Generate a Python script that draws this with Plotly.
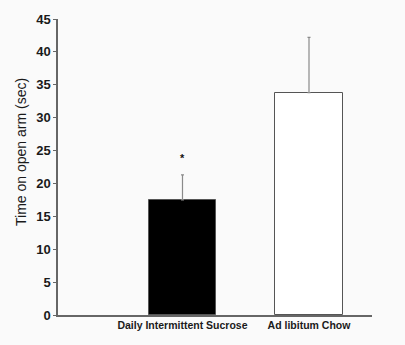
import plotly.graph_objects as go

categories = ["Daily Intermittent Sucrose", "Ad libitum Chow"]
means = [17.5, 33.8]
errors = [3.8, 8.4]
fills = ["#000000", "#ffffff"]
y_ticks = [0, 5, 10, 15, 20, 25, 30, 35, 40, 45]
star_y = 23.9

FONT = "Liberation Sans, Arial, sans-serif"
L, R, T, B = 58, 33, 19, 30
W, H = 405, 345
pw, ph = W - L - R, H - T - B

fig = go.Figure()
fig.add_trace(go.Bar(
    x=[0, 1], y=means, width=0.53,
    marker=dict(color=fills, line=dict(color="#555555", width=1)),
    error_y=dict(type="data", array=errors, symmetric=False, arrayminus=[0, 0],
                 color="#8a8a8a", thickness=1.2, width=1.5),
    showlegend=False,
))
fig.add_annotation(x=0, y=star_y, text="*", showarrow=False,
                   font=dict(family=FONT, size=11, color="#111", weight="bold"),
                   yanchor="middle")
fig.add_annotation(x=(21 - L) / pw, y=(H - B - 152) / ph, xref="paper", yref="paper",
                   text="Time on open arm (sec)", showarrow=False, textangle=-90,
                   xanchor="center", yanchor="middle",
                   font=dict(family=FONT, size=14, color="#1a1a1a"))

fig.update_layout(
    width=W, height=H,
    margin=dict(l=L, r=R, t=T, b=B),
    paper_bgcolor="#fafafa", plot_bgcolor="#fafafa",
    bargap=0,
    xaxis=dict(range=[-0.984, 1.498], tickmode="array", tickvals=[0, 1],
               ticktext=categories,
               showline=True, linecolor="#666666", linewidth=1.5, ticks="",
               showgrid=False, zeroline=False,
               tickfont=dict(family=FONT, size=10.5, color="#1a1a1a", weight="bold")),
    yaxis=dict(range=[0, 45], tickmode="array", tickvals=y_ticks,
               ticktext=[str(v) for v in y_ticks],
               showline=True, linecolor="#666666", linewidth=1.5,
               ticks="outside", ticklen=3, tickcolor="#666666", tickwidth=1,
               showgrid=False, zeroline=False,
               tickfont=dict(family=FONT, size=13, color="#1a1a1a", weight="bold")),
)

fig.write_html("out.html")
